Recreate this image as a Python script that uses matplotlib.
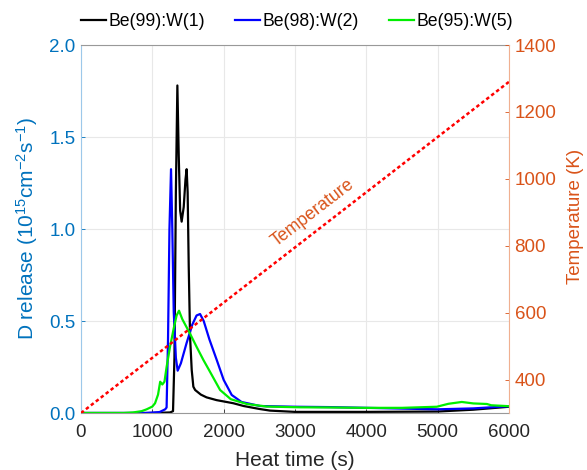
import matplotlib
matplotlib.use("Agg")
import matplotlib.pyplot as plt

plt.rcParams['font.family'] = ['Liberation Sans', 'DejaVu Sans']
plt.rcParams['mathtext.fontset'] = 'custom'
plt.rcParams['mathtext.rm'] = 'Liberation Sans'
plt.rcParams['mathtext.it'] = 'Liberation Sans'

# ---- data ----
t_black = [0, 1000, 1250, 1290, 1310, 1330, 1351, 1370, 1390, 1411, 1440, 1465, 1481, 1495, 1510,
           1529, 1552, 1575, 1600, 1680, 1760, 1900, 2136, 2280, 2500, 2650, 3000, 4000, 5000, 5500, 6000]
v_black = [0, 0, 0.003, 0.01, 0.3, 1.2, 1.78, 1.4, 1.1, 1.04, 1.12, 1.27, 1.325, 1.2, 0.8,
           0.415, 0.234, 0.143, 0.125, 0.1, 0.085, 0.07, 0.053, 0.038, 0.022, 0.013, 0.006, 0.006, 0.008, 0.018, 0.034]

t_blue = [0, 900, 1100, 1180, 1200, 1220, 1240, 1262, 1280, 1300, 1330, 1355, 1400, 1480, 1560, 1620,
          1669, 1720, 1800, 1903, 2000, 2113, 2250, 2510, 3000, 3500, 4000, 4500, 5000, 5500, 6000]
v_blue = [0, 0, 0.005, 0.02, 0.03, 0.4, 1.0, 1.325, 1.0, 0.55, 0.3, 0.23, 0.27, 0.38, 0.48, 0.53,
          0.538, 0.5, 0.4, 0.288, 0.18, 0.098, 0.06, 0.038, 0.034, 0.032, 0.028, 0.024, 0.02, 0.025, 0.037]

t_green = [0, 600, 730, 850, 920, 1000, 1038, 1080, 1110, 1140, 1170, 1200, 1248, 1300, 1340, 1374,
           1420, 1530, 1620, 1716, 1800, 1950, 2100, 2324, 2600, 3071, 3500, 4000, 4500, 4988, 5150,
           5338, 5500, 5690, 5750, 6000]
v_green = [0, 0, 0.003, 0.01, 0.02, 0.035, 0.053, 0.1, 0.17, 0.155, 0.17, 0.25, 0.36, 0.46, 0.53, 0.556,
           0.51, 0.43, 0.36, 0.288, 0.23, 0.125, 0.075, 0.049, 0.035, 0.031, 0.03, 0.028, 0.028, 0.034, 0.05,
           0.06, 0.052, 0.049, 0.042, 0.037]

t_temp = [0, 6000]
v_temp = [300, 1290]

labels = ['Be(99):W(1)', 'Be(98):W(2)', 'Be(95):W(5)']
xticks = [0, 1000, 2000, 3000, 4000, 5000, 6000]
yticks_left = [0.0, 0.5, 1.0, 1.5, 2.0]
yticks_right = [400, 600, 800, 1000, 1200, 1400]

C_LEFT = '#0072BD'
C_RIGHT = '#D95319'

W, H = 587, 470
fig = plt.figure(figsize=(W / 100, H / 100), dpi=100)
ax = fig.add_axes([81 / W, 1 - 413 / H, (509 - 81) / W, (413 - 45) / H])
ax2 = ax.twinx()

l1, = ax.plot(t_black, v_black, color='black', lw=1.6, label=labels[0])
l2, = ax.plot(t_blue, v_blue, color='#0000FF', lw=1.6, label=labels[1])
l3, = ax.plot(t_green, v_green, color='#00EE00', lw=1.6, label=labels[2])
ax2.plot(t_temp, v_temp, color='#FF0000', lw=1.8, linestyle=(0, (1.4, 1.1)))

ax.set_xlim(0, 6000)
ax.set_ylim(0, 2.0)
ax2.set_ylim(300, 1400)
ax.set_xticks(xticks)
ax.set_yticks(yticks_left)
ax.set_yticklabels([f'{v:.1f}' for v in yticks_left])
ax2.set_yticks(yticks_right)

ax.grid(True, color='#E8E8E8', lw=0.8)
ax.set_axisbelow(True)

ax.tick_params(axis='x', direction='in', labelsize=13.5, colors='#262626', length=3, width=0.6, pad=8)
ax.tick_params(axis='y', direction='in', labelsize=13.5, colors=C_LEFT, length=3, width=0.6, pad=4)
ax2.tick_params(axis='y', direction='in', labelsize=13.5, colors=C_RIGHT, length=3, width=0.6, pad=4)

for s in ['top', 'bottom']:
    ax2.spines[s].set_visible(False)
ax.spines['top'].set_color('#999999')
ax.spines['bottom'].set_color('#999999')
ax.spines['left'].set_color('#9CC8EA')
ax2.spines['left'].set_visible(False)
ax.spines['right'].set_visible(False)
ax2.spines['right'].set_color('#F0B090')
for s in ax.spines.values():
    s.set_linewidth(0.8)
ax2.spines['right'].set_linewidth(0.8)

ax.set_xlabel('Heat time (s)', fontsize=15, color='#262626')
ax.xaxis.set_label_coords(0.5, -(460 - 413) / (413 - 45), transform=ax.transAxes)
ax.set_ylabel('D release (10$^{15}$cm$^{-2}$s$^{-1}$)', fontsize=15, color=C_LEFT)
ax.yaxis.set_label_coords(27 / W, 1 - 228 / H, transform=fig.transFigure)
ax2.set_ylabel('Temperature (K)', fontsize=13.5, color=C_RIGHT)
ax2.yaxis.set_label_coords(576 / W, 1 - 216 / H, transform=fig.transFigure)
ax.xaxis.label.set_va('center')
ax.yaxis.label.set_va('center')
ax2.yaxis.label.set_va('center')

ax.text(3252, 1.087, 'Temperature', color=C_RIGHT, fontsize=12.8, rotation=37.6,
        ha='center', va='center', rotation_mode='anchor')

fig.legend(handles=[l1, l2, l3], loc='center', bbox_to_anchor=(297 / W, 1 - 22 / H), ncol=3,
           frameon=False, fontsize=12.7, handlelength=1.4, handletextpad=0.15, columnspacing=1.7,
           borderaxespad=0.0, borderpad=0.0)

fig.savefig('out.png', dpi=100)
